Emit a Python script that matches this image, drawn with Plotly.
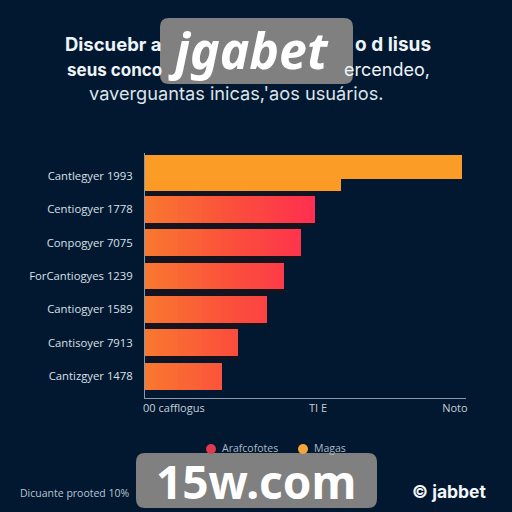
import plotly.graph_objects as go

categories = ['Cantlegyer 1993', 'Centiogyer 1778', 'Conpogyer 7075', 'ForCantiogyes 1239',
              'Cantiogyer 1589', 'Cantisoyer 7913', 'Cantizgyer 1478']
values = [None, 53.6, 49.2, 43.8, 38.5, 29.3, 24.3]
first_long = 100
first_short = 61.8
x_ticks = [9.1, 54.6, 97.8]
x_labels = ['00 cafflogus', 'TI E', 'Noto']
legend_names = ['Arafcofotes', 'Magas']
legend_colors = ['#E0384F', '#F5A63A']

BG = '#021830'
FONT = 'Open Sans'
TITLE_FONT = 'Inter'
STEP = 1.5
# plot box on the page, in pixels
LEFT, RIGHT, TOP, BOTTOM = 145, 466, 153, 398


def px(x):
    return (x - LEFT) / (RIGHT - LEFT)


def py(y):
    return (BOTTOM - y) / (BOTTOM - TOP)


def pill(x0, y0, x1, y1, r=9):
    # rounded box, given in page pixels
    return (f'M {px(x0 + r)} {py(y0)} L {px(x1 - r)} {py(y0)} Q {px(x1)} {py(y0)} {px(x1)} {py(y0 + r)} '
            f'L {px(x1)} {py(y1 - r)} Q {px(x1)} {py(y1)} {px(x1 - r)} {py(y1)} '
            f'L {px(x0 + r)} {py(y1)} Q {px(x0)} {py(y1)} {px(x0)} {py(y1 - r)} '
            f'L {px(x0)} {py(y0 + r)} Q {px(x0)} {py(y0)} {px(x0 + r)} {py(y0)} Z')


def dot(cx, cy, color, r=5):
    return dict(type='circle', xref='paper', yref='paper', x0=px(cx - r), x1=px(cx + r), y0=py(cy + r), y1=py(cy - r),
                fillcolor=color, line_width=0)


def note(text, x, y, size, anchor='center', color='#EEF3F8', font=TITLE_FONT):
    return dict(text=text, x=px(x), y=py(y), xref='paper', yref='paper', xanchor=anchor, yanchor='middle',
                showarrow=False, font=dict(family=font, size=size, color=color))


# plotly bars have no gradient fill, so each bar is cut into thin pieces coloured by position
seg_y, seg_base, seg_len = [], [], []
for cat, val in zip(categories, values):
    if val is None:
        continue
    start = 0
    while start < val:
        seg_y.append(cat)
        seg_base.append(start)
        seg_len.append(min(STEP + 0.3, val - start))
        start += STEP

fig = go.Figure()
# dark shadow showing in the gaps under the bars
fig.add_trace(go.Bar(y=categories[:6], x=[first_short] + values[1:6], orientation='h', width=1.0,
                     marker=dict(color='#141420', line_width=0), showlegend=False))
fig.add_trace(go.Bar(y=[categories[0]], x=[first_short], orientation='h', offset=-0.62, width=1.09,
                     marker=dict(color='#FB9A24', line_width=0), showlegend=False))
fig.add_trace(go.Bar(y=[categories[0]], x=[first_long], orientation='h', offset=-0.62, width=0.71,
                     marker=dict(color='#FB9C26', line_width=0), showlegend=False))
fig.add_trace(go.Bar(y=seg_y, x=seg_len, base=seg_base, orientation='h', width=0.8,
                     marker=dict(color=seg_base, cmin=0, cmax=54, line_width=0,
                                 colorscale=[[0, '#F9772F'], [0.5, '#FB4F3C'], [1, '#FF2D50']]),
                     showlegend=False))

shapes = [
    dict(type='path', path=pill(160, 18, 353, 84), xref='paper', yref='paper', fillcolor='#808080', line_width=0, layer='above'),
    dict(type='path', path=pill(136, 453, 377, 508), xref='paper', yref='paper', fillcolor='#808080', line_width=0, layer='above'),
    dot(211, 449, legend_colors[0]),
    dot(303, 449, legend_colors[1]),
]
annotations = [
    note('<b>Discuebr a</b>', 63, 44, 18.5, 'left'),
    note('<b>o d lisus</b>', 433, 44, 19, 'right'),
    note('<b>seus conco</b>', 65, 70, 17, 'left'),
    note('ercendeo,', 432, 70, 18, 'right'),
    note("vaverguantas inicas,'aos usuários.", 236, 93, 18.2, color='#DCE4EC'),
    note(legend_names[0], 220, 448, 10.5, 'left', color='#AEB9C5', font=FONT),
    note(legend_names[1], 312, 448, 10.5, 'left', color='#AEB9C5', font=FONT),
    note('Dicuante prooted 10%', 18, 493, 10.5, 'left', color='#B9C4CF', font=FONT),
    note('<b>© jabbet</b>', 489, 491, 17.5, 'right', color='#F4F6F8'),
    note('<b><i>jgabet</i></b>', 248, 50, 50, color='#FFFFFF', font='Noto Sans'),
    note('<b>15w.com</b>', 256, 481, 46, color='#FFFFFF', font='Noto Sans'),
]

fig.update_layout(
    width=512, height=512, autosize=False,
    margin=dict(l=LEFT, r=512 - RIGHT, t=TOP, b=512 - BOTTOM),
    paper_bgcolor=BG, plot_bgcolor=BG,
    barmode='overlay', bargap=0, showlegend=False,
    shapes=shapes, annotations=annotations,
    xaxis=dict(range=[0, 101.3], tickvals=x_ticks, ticktext=x_labels, showgrid=False, zeroline=False,
               showline=True, linecolor='#8D99A8', linewidth=1, ticks='',
               tickfont=dict(family=FONT, size=11, color='#C6CFD9')),
    yaxis=dict(type='category', categoryorder='array', categoryarray=categories, range=[6.65, -0.68],
               showgrid=False, zeroline=False, showline=True, linecolor='#8D99A8', linewidth=1,
               ticks='', ticklabelstandoff=9,
               tickfont=dict(family=FONT, size=11.3, color='#D8E0E8')),
)

fig.write_html("out.html", config=dict(displayModeBar=False),
               post_script="document.body.style.margin='0';document.body.style.background='#021830';")
